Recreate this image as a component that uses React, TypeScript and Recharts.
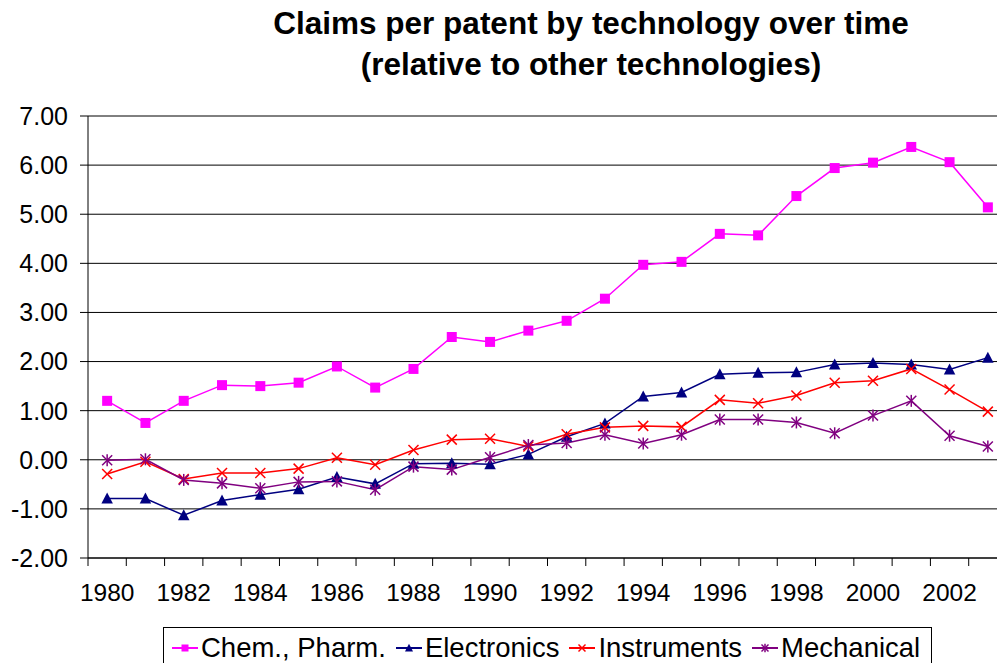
import { LineChart, Line, XAxis, YAxis, CartesianGrid, Legend } from "recharts";

const years = [
  1980, 1981, 1982, 1983, 1984, 1985, 1986, 1987, 1988, 1989, 1990, 1991,
  1992, 1993, 1994, 1995, 1996, 1997, 1998, 1999, 2000, 2001, 2002, 2003,
];

const chemPharm = [
  1.2, 0.75, 1.2, 1.52, 1.5, 1.57, 1.9, 1.47, 1.85, 2.5, 2.4, 2.63,
  2.83, 3.28, 3.97, 4.03, 4.6, 4.57, 5.37, 5.94, 6.05, 6.37, 6.06, 5.14,
];
const electronics = [
  -0.79, -0.79, -1.13, -0.83, -0.71, -0.6, -0.35, -0.49, -0.08, -0.07, -0.09, 0.11,
  0.47, 0.74, 1.29, 1.37, 1.74, 1.77, 1.78, 1.94, 1.97, 1.94, 1.84, 2.08,
];
const instruments = [
  -0.29, -0.04, -0.39, -0.27, -0.27, -0.18, 0.04, -0.1, 0.2, 0.41, 0.43, 0.27,
  0.52, 0.66, 0.69, 0.67, 1.22, 1.15, 1.31, 1.57, 1.61, 1.85, 1.43, 0.98,
];
const mechanical = [
  -0.01, 0.01, -0.41, -0.48, -0.58, -0.45, -0.44, -0.61, -0.14, -0.2, 0.05, 0.3,
  0.34, 0.51, 0.33, 0.51, 0.82, 0.82, 0.76, 0.54, 0.9, 1.2, 0.49, 0.27,
];

const yTicks = [-2, -1, 0, 1, 2, 3, 4, 5, 6, 7];
const xLabels = [1980, 1982, 1984, 1986, 1988, 1990, 1992, 1994, 1996, 1998, 2000, 2002];

const data = years.map((year, i) => ({
  year,
  chem: chemPharm[i],
  elec: electronics[i],
  inst: instruments[i],
  mech: mechanical[i],
}));

// tick marks sit between the categories, like Excel
const boundaries = [...years.map((y) => y - 0.5), years[years.length - 1] + 0.5];

const FONT = "'Liberation Sans', Arial, sans-serif";
const CHART_W = 1010;
const LEFT = 88;
const RIGHT = 3;
const HALF = (CHART_W - LEFT - RIGHT) / years.length / 2;

const series = [
  { key: "chem", name: "Chem., Pharm.", color: "#FF00FF", shape: "square" },
  { key: "elec", name: "Electronics", color: "#000080", shape: "triangle" },
  { key: "inst", name: "Instruments", color: "#FF0000", shape: "x" },
  { key: "mech", name: "Mechanical", color: "#800080", shape: "star" },
];

function Marker({ shape, color, cx, cy, s }: any) {
  if (cx == null || cy == null) return null;
  if (shape === "square")
    return <rect x={cx - s} y={cy - s} width={s * 2} height={s * 2} fill={color} />;
  if (shape === "triangle")
    return (
      <polygon
        points={`${cx},${cy - s * 1.2} ${cx + s * 1.15},${cy + s} ${cx - s * 1.15},${cy + s}`}
        fill={color}
      />
    );
  if (shape === "x")
    return (
      <g stroke={color} strokeWidth={1.5}>
        <line x1={cx - s} y1={cy - s} x2={cx + s} y2={cy + s} />
        <line x1={cx - s} y1={cy + s} x2={cx + s} y2={cy - s} />
      </g>
    );
  return (
    <g stroke={color} strokeWidth={1.5}>
      <line x1={cx - s} y1={cy - s} x2={cx + s} y2={cy + s} />
      <line x1={cx - s} y1={cy + s} x2={cx + s} y2={cy - s} />
      <line x1={cx} y1={cy - s * 1.2} x2={cx} y2={cy + s * 1.2} />
    </g>
  );
}

function YearTick({ x, y, payload }: any) {
  const year = payload.value + 0.5;
  if (!xLabels.includes(year)) return <g />;
  return (
    <text x={x + HALF} y={y} dy="0.71em" textAnchor="middle" fill="#000" fontSize={24.5} fontFamily={FONT}>
      {year}
    </text>
  );
}

function LegendBox() {
  return (
    <div
      style={{
        border: "1px solid #000",
        background: "#fff",
        height: 42,
        display: "flex",
        alignItems: "center",
        padding: "0 0 0 8px",
        gap: 10,
        fontFamily: FONT,
        fontSize: 27.5,
        color: "#000",
        boxSizing: "border-box",
      }}
    >
      {series.map((s) => (
        <div key={s.key} style={{ display: "flex", alignItems: "center", whiteSpace: "nowrap" }}>
          <svg width={26} height={16} style={{ marginRight: 3 }}>
            <line x1={0} y1={8} x2={26} y2={8} stroke={s.color} strokeWidth={2} />
            <Marker shape={s.shape} color={s.color} cx={13} cy={8} s={3.5} />
          </svg>
          <span>{s.name}</span>
        </div>
      ))}
    </div>
  );
}

export default function App() {
  return (
    <div
      style={{
        position: "fixed",
        left: 0,
        top: 0,
        width: 997,
        height: 663,
        overflow: "hidden",
        background: "#fff",
      }}
    >
      <div
        style={{
          position: "absolute",
          left: 191,
          top: 3,
          width: 800,
          textAlign: "center",
          fontFamily: FONT,
          fontWeight: "bold",
          fontSize: 31.5,
          lineHeight: "41px",
          color: "#000",
        }}
      >
        Claims per patent by technology over time
        <br />
        (relative to other technologies)
      </div>
      <LineChart
        width={CHART_W}
        height={700}
        data={data}
        margin={{ top: 116, right: RIGHT, left: 0, bottom: 102 }}
      >
        <CartesianGrid vertical={false} stroke="#000" />
        <XAxis
          dataKey="year"
          type="number"
          domain={[boundaries[0], boundaries[boundaries.length - 1]]}
          ticks={boundaries}
          interval={0}
          height={40}
          tickSize={8}
          tickMargin={18}
          tick={<YearTick />}
          stroke="#000"
          axisLine={{ stroke: "#000" }}
          tickLine={{ stroke: "#000" }}
        />
        <YAxis
          width={LEFT}
          domain={[-2, 7]}
          ticks={yTicks}
          interval={0}
          tickSize={8}
          tickMargin={12}
          tickFormatter={(v: number) => v.toFixed(2)}
          tick={{ fill: "#000", fontSize: 25, fontFamily: FONT }}
          axisLine={{ stroke: "#000" }}
          tickLine={{ stroke: "#000" }}
        />
        <Legend
          verticalAlign="middle"
          align="center"
          layout="horizontal"
          wrapperStyle={{ top: 627, left: 163, width: 769 }}
          content={() => <LegendBox />}
        />
        {series.map((s) => (
          <Line
            key={s.key}
            dataKey={s.key}
            name={s.name}
            type="linear"
            stroke={s.color}
            strokeWidth={1.5}
            dot={(p: any) => <Marker key={`${s.key}-${p.index}`} shape={s.shape} color={s.color} cx={p.cx} cy={p.cy} s={5} />}
            activeDot={false}
            isAnimationActive={false}
          />
        ))}
      </LineChart>
    </div>
  );
}
